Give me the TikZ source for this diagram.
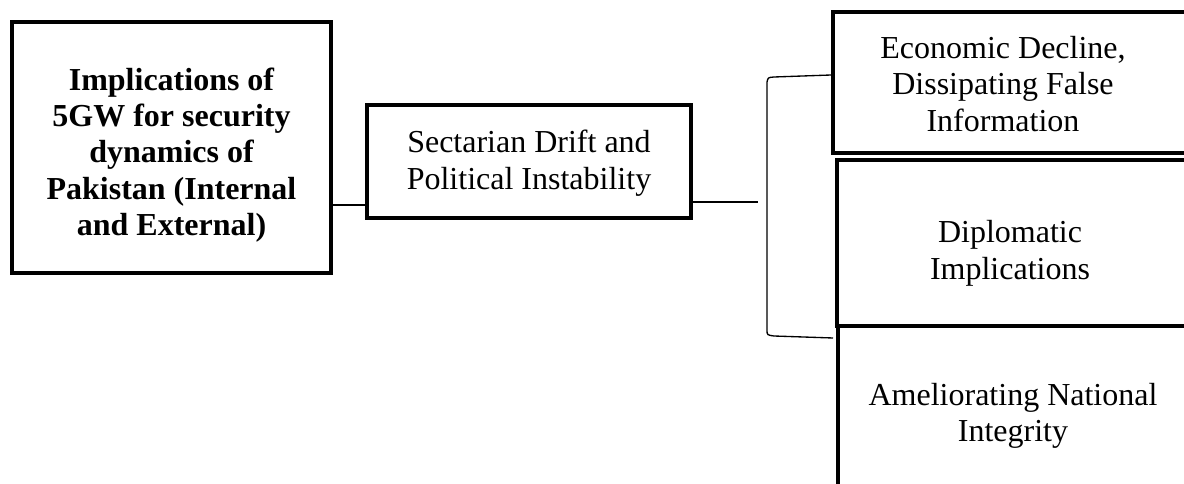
\documentclass[tikz,border=0pt]{standalone}
\usepackage{fontspec}
\setmainfont{Liberation Serif}
\begin{document}
\begin{tikzpicture}[x=0.75pt,y=-0.75pt,
  box/.style={draw=black,line width=3pt,fill=white,rectangle,inner sep=0pt},
  txt/.style={align=center,inner sep=0pt,font=\fontsize{24}{27.5}\selectfont},
  conn/.style={draw=black,line width=1pt}]
\useasboundingbox (0,0) rectangle (1184,484);
\clip (0,0) rectangle (1184,484);
% main box
\node[box,minimum width=319*0.75pt,minimum height=251*0.75pt] (b1) at (171.5,147.5) {};
\node[txt,font=\bfseries\fontsize{24}{27.2}\selectfont] (t1) at (171.5,155) {Implications of\\5GW for security\\dynamics of\\Pakistan (Internal\\and External)};
% second box
\node[box,minimum width=324*0.75pt,minimum height=113*0.75pt] (b2) at (529,161.5) {};
\node[txt] (t2) at (529,163) {Sectarian Drift and\\Political Instability};
% right boxes (extend past the edge)
\node[box,minimum width=380*0.75pt,minimum height=141*0.75pt] (b3) at (1023,82.5) {};
\node[txt] (t3) at (1003,84) {Economic Decline,\\Dissipating False\\Information};
\node[box,minimum width=380*0.75pt,minimum height=300*0.75pt] (b5) at (1028,476) {};
\node[box,minimum width=380*0.75pt,minimum height=166*0.75pt] (b4) at (1027,243) {};
\node[txt] (t4) at (1010,253) {Diplomatic\\Implications};
\node[txt] (t5) at (1013,416) {Ameliorating National\\Integrity};
% connectors
\coordinate (e1) at (758,202);
\coordinate (bt) at (767,82);
\coordinate (bb) at (767,330);
\draw[conn] (b1.east |- 0,205) -- (b2.west |- 0,205);
\draw[conn] (b2.east |- 0,202) -- (e1);
\draw[conn] (b3.west |- 0,75) -- (774,77) .. controls (768,77.5) .. (bt) -- (bb) .. controls (767,335) .. (774,336) -- (833,338);
\end{tikzpicture}
\end{document}
